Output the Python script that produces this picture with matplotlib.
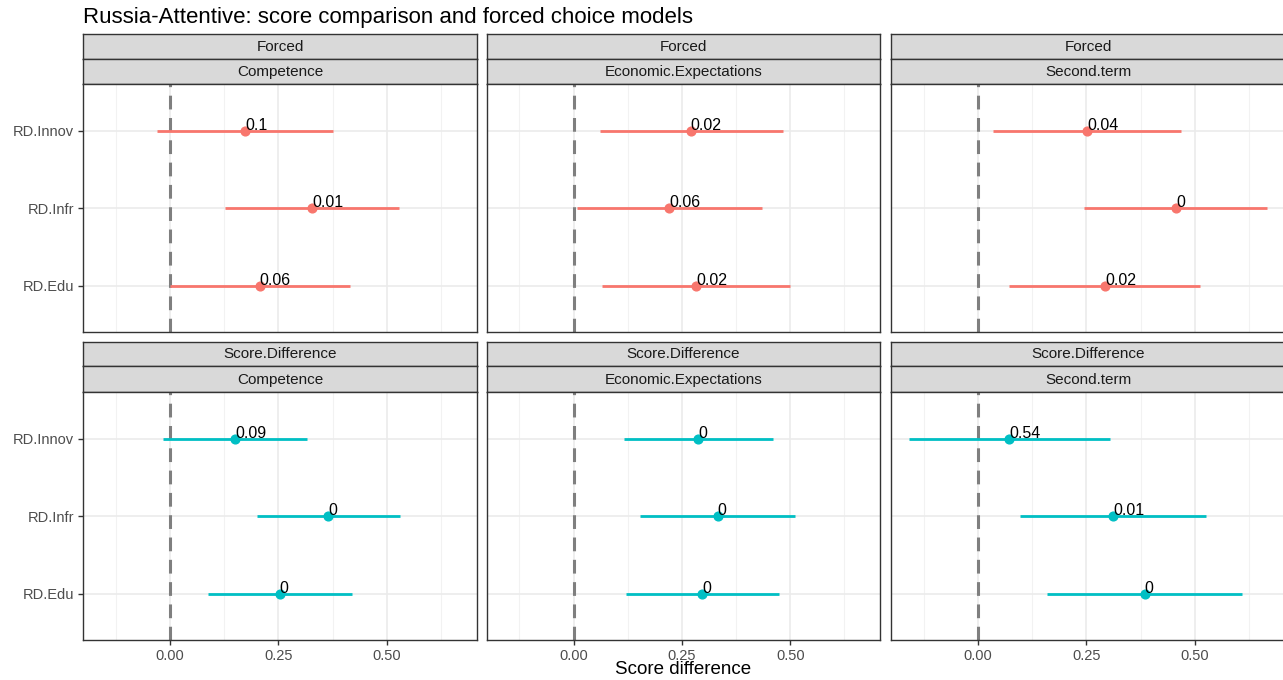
import matplotlib
matplotlib.use("Agg")
import matplotlib.pyplot as plt
import numpy as np

plt.rcParams['font.family'] = ['Liberation Sans', 'DejaVu Sans']

# ---- data ----
models = ['Forced', 'Score.Difference']
outcomes = ['Competence', 'Economic.Expectations', 'Second.term']
terms = ['RD.Innov', 'RD.Infr', 'RD.Edu']
colors = ['#F8766D', '#00BFC4']

# values per outcome, for terms (Innov, Infr, Edu)
forced_est = [[0.173, 0.327, 0.207], [0.270, 0.221, 0.283], [0.251, 0.456, 0.293]]
forced_lo = [[-0.030, 0.127, 0.000], [0.060, 0.007, 0.065], [0.035, 0.244, 0.071]]
forced_hi = [[0.376, 0.528, 0.415], [0.482, 0.435, 0.500], [0.468, 0.666, 0.512]]
forced_p = [['0.1', '0.01', '0.06'], ['0.02', '0.06', '0.02'], ['0.04', '0', '0.02']]

score_est = [[0.150, 0.364, 0.253], [0.288, 0.332, 0.297], [0.072, 0.311, 0.384]]
score_lo = [[-0.016, 0.200, 0.088], [0.117, 0.154, 0.120], [-0.159, 0.096, 0.160]]
score_hi = [[0.316, 0.530, 0.419], [0.459, 0.510, 0.475], [0.304, 0.524, 0.609]]
score_p = [['0.09', '0', '0'], ['0', '0', '0'], ['0.54', '0.01', '0']]

est = [forced_est, score_est]
lo = [forced_lo, score_lo]
hi = [forced_hi, score_hi]
pv = [forced_p, score_p]

xticks = [0.0, 0.25, 0.5]
xticklabels = ['0.00', '0.25', '0.50']

# ---- layout (pixel based) ----
W, H = 1283, 680
fig = plt.figure(figsize=(W / 100, H / 100), dpi=100)


def ax_px(x0, y0, x1, y1):
    return fig.add_axes([x0 / W, 1 - y1 / H, (x1 - x0) / W, (y1 - y0) / H])


cols = [(83, 477), (487, 880), (891, 1285)]
rows = [((34, 59), (59, 84), (84, 332)), ((342, 366), (366, 392), (392, 640))]
edge = '#333333'
tickcol = '#4D4D4D'

ypos = {t: 3 - i for i, t in enumerate(terms)}  # Innov on top

for r, model in enumerate(models):
    (s1, s2, pnl) = rows[r]
    for c, outcome in enumerate(outcomes):
        x0, x1 = cols[c]
        # strips
        for (ya, yb), label in [(s1, model), (s2, outcome)]:
            sa = ax_px(x0, ya, x1, yb)
            sa.set_facecolor('#D9D9D9')
            sa.set_xticks([]); sa.set_yticks([])
            for sp in sa.spines.values():
                sp.set_color(edge); sp.set_linewidth(1.0)
            sa.text(0.5, 0.48, label, ha='center', va='center', fontsize=11,
                    color='#1A1A1A', transform=sa.transAxes)
        ax = ax_px(x0, pnl[0], x1, pnl[1])
        ax.set_facecolor('white')
        ax.set_xlim(-0.2, 0.707)
        ax.set_ylim(0.4, 3.6)
        # grid
        for gx in [-0.125, 0.125, 0.375, 0.625]:
            ax.axvline(gx, color='#F2F2F2', lw=0.8, zorder=0)
        for gx in xticks:
            ax.axvline(gx, color='#EBEBEB', lw=1.2, zorder=0)
        for t in terms:
            ax.axhline(ypos[t], color='#EBEBEB', lw=1.2, zorder=0)
        ax.axvline(0, color='#7F7F7F', lw=2.2, ls=(0, (4.5, 2.8)), zorder=1)
        col = colors[r]
        for i, t in enumerate(terms):
            y = ypos[t]
            ax.plot([lo[r][c][i], hi[r][c][i]], [y, y], color=col, lw=2.0,
                    solid_capstyle='butt', zorder=2)
            ax.plot(est[r][c][i], y, 'o', color=col, ms=6.3, zorder=3)
            ax.text(est[r][c][i], y + 0.01, pv[r][c][i], fontsize=11.5,
                    color='black', ha='left', va='baseline', zorder=4)
        for sp in ax.spines.values():
            sp.set_color(edge); sp.set_linewidth(1.0)
        ax.tick_params(colors=edge, labelcolor=tickcol, length=3.5, width=1.0, pad=3)
        ax.set_yticks([ypos[t] for t in terms])
        if c == 0:
            ax.set_yticklabels(terms, fontsize=10.5, color=tickcol)
        else:
            ax.set_yticklabels([])
            ax.tick_params(axis='y', length=0)
        ax.set_xticks(xticks)
        if r == 1:
            ax.set_xticklabels(xticklabels, fontsize=10.5, color=tickcol)
        else:
            ax.set_xticklabels([])
            ax.tick_params(axis='x', length=0)

fig.text(83 / W, 1 - 17 / H, 'Russia-Attentive: score comparison and forced choice models',
         fontsize=16, color='black', ha='left', va='center')
fig.text(683 / W, 1 - 670 / H, 'Score difference', fontsize=13.5, color='black',
         ha='center', va='center')

fig.savefig('out.png', dpi=100, facecolor='white')
